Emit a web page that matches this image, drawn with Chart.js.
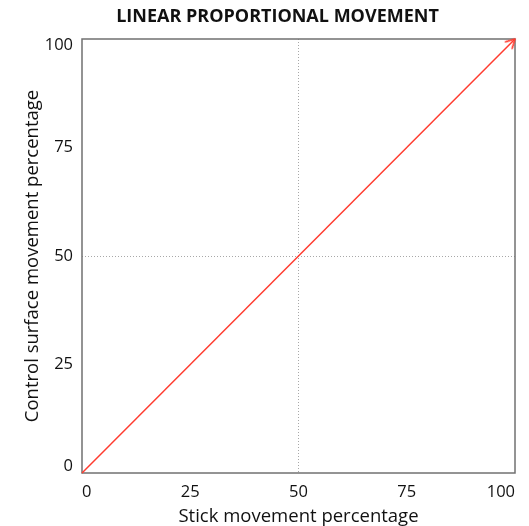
<!DOCTYPE html>
<html><head><meta charset="utf-8">
<script src="https://cdn.jsdelivr.net/npm/chart.js@4/dist/chart.umd.min.js"></script>
<style>html,body{margin:0;padding:0;background:#fff}#wrap{width:529px;height:526px}</style>
</head><body><div id="wrap"><canvas id="c"></canvas></div>
<script>
const stickPct = [0, 100];
const surfacePct = [0, 100];
const tickValues = [0, 25, 50, 75, 100];
const gridValues = [50];
const titleText = 'LINEAR PROPORTIONAL MOVEMENT';
const xTitle = 'Stick movement percentage';
const yTitle = 'Control surface movement percentage';
const lineColor = '#ff3b2f';
const FONT = "'Open Sans', sans-serif";

function arrowCanvas() {
  const s = 28; const c = document.createElement('canvas'); c.width = s; c.height = s;
  const g = c.getContext('2d'); g.strokeStyle = lineColor; g.lineWidth = 1.6; g.lineCap = 'round'; g.lineJoin = 'round';
  const cx = s / 2, cy = s / 2, L = 10, a = 28 * Math.PI / 180;
  g.beginPath();
  g.moveTo(cx - L * Math.cos(a), cy - L * Math.sin(a));
  g.lineTo(cx, cy);
  g.lineTo(cx - L * Math.cos(a), cy + L * Math.sin(a));
  g.stroke();
  return c;
}
const arrow = arrowCanvas();
const lastIdx = stickPct.length - 1;

const boxPlugin = {
  id: 'box',
  beforeDraw(chart) {
    const y = chart.scales.y;
    const items = y.getLabelItems();
    if (items.length && !items._shifted) {
      items[0].options.translation[1] -= 6.5;
      items[items.length - 1].options.translation[1] += 6;
      items._shifted = true;
    }
  },
  beforeDatasetsDraw(chart) {
    const a = chart.chartArea, ctx = chart.ctx;
    ctx.save();
    ctx.strokeStyle = '#707070';
    ctx.lineWidth = 1.5;
    ctx.strokeRect(a.left, a.top, a.right - a.left, a.bottom - a.top);
    ctx.restore();
  }
};

const gridColor = (ctx) => (ctx.tick && gridValues.includes(ctx.tick.value)) ? '#a8a8a8' : 'rgba(0,0,0,0)';

new Chart(document.getElementById('c'), {
  type: 'scatter',
  data: {
    datasets: [{
      data: stickPct.map((x, i) => ({ x, y: surfacePct[i] })),
      showLine: true,
      borderColor: lineColor,
      borderWidth: 1.5,
      pointRadius: stickPct.map((_, i) => i === lastIdx ? 5 : 0),
      pointStyle: (ctx) => ctx.dataIndex === lastIdx ? arrow : 'circle',
      pointRotation: -45,
      clip: false
    }]
  },
  options: {
    responsive: true,
    maintainAspectRatio: false,
    animation: false,
    layout: { padding: { left: 26, right: 0, top: 0, bottom: 0 } },
    plugins: {
      legend: { display: false },
      tooltip: { enabled: false },
      title: {
        display: true, text: titleText, color: '#111',
        font: { family: FONT, size: 18, weight: 'bold' },
        padding: { top: 6, bottom: 11.4 }
      }
    },
    scales: {
      x: {
        type: 'linear', min: 0, max: 100,
        afterBuildTicks: (s) => { s.ticks = tickValues.map(v => ({ value: v })); },
        afterFit: (s) => { s.height = 53; },
        ticks: { align: 'inner', color: '#111', font: { family: FONT, size: 16.5 }, padding: 9 },
        grid: { color: gridColor, drawTicks: false, lineWidth: 1 },
        border: { display: false, dash: [1, 2] },
        title: { display: true, text: xTitle, color: '#111', font: { family: FONT, size: 18.5 }, padding: { top: 0, bottom: -2 } }
      },
      y: {
        type: 'linear', min: 0, max: 100,
        afterBuildTicks: (s) => { s.ticks = tickValues.map(v => ({ value: v })); },
        afterFit: (s) => { s.width = 56; },
        ticks: { color: '#111', font: { family: FONT, size: 16.5 }, padding: 9 },
        grid: { color: gridColor, drawTicks: false, lineWidth: 1 },
        border: { display: false, dash: [1, 2] },
        title: { display: true, text: yTitle, color: '#111', font: { family: FONT, size: 18.5 }, padding: { top: -4, bottom: 0 } }
      },
      yRight: {
        type: 'linear', position: 'right', min: 0, max: 100,
        afterFit: (s) => { s.width = 14; },
        ticks: { display: false },
        grid: { display: false, drawTicks: false },
        border: { display: false },
        title: { display: false }
      }
    }
  },
  plugins: [boxPlugin]
});
</script></body></html>
